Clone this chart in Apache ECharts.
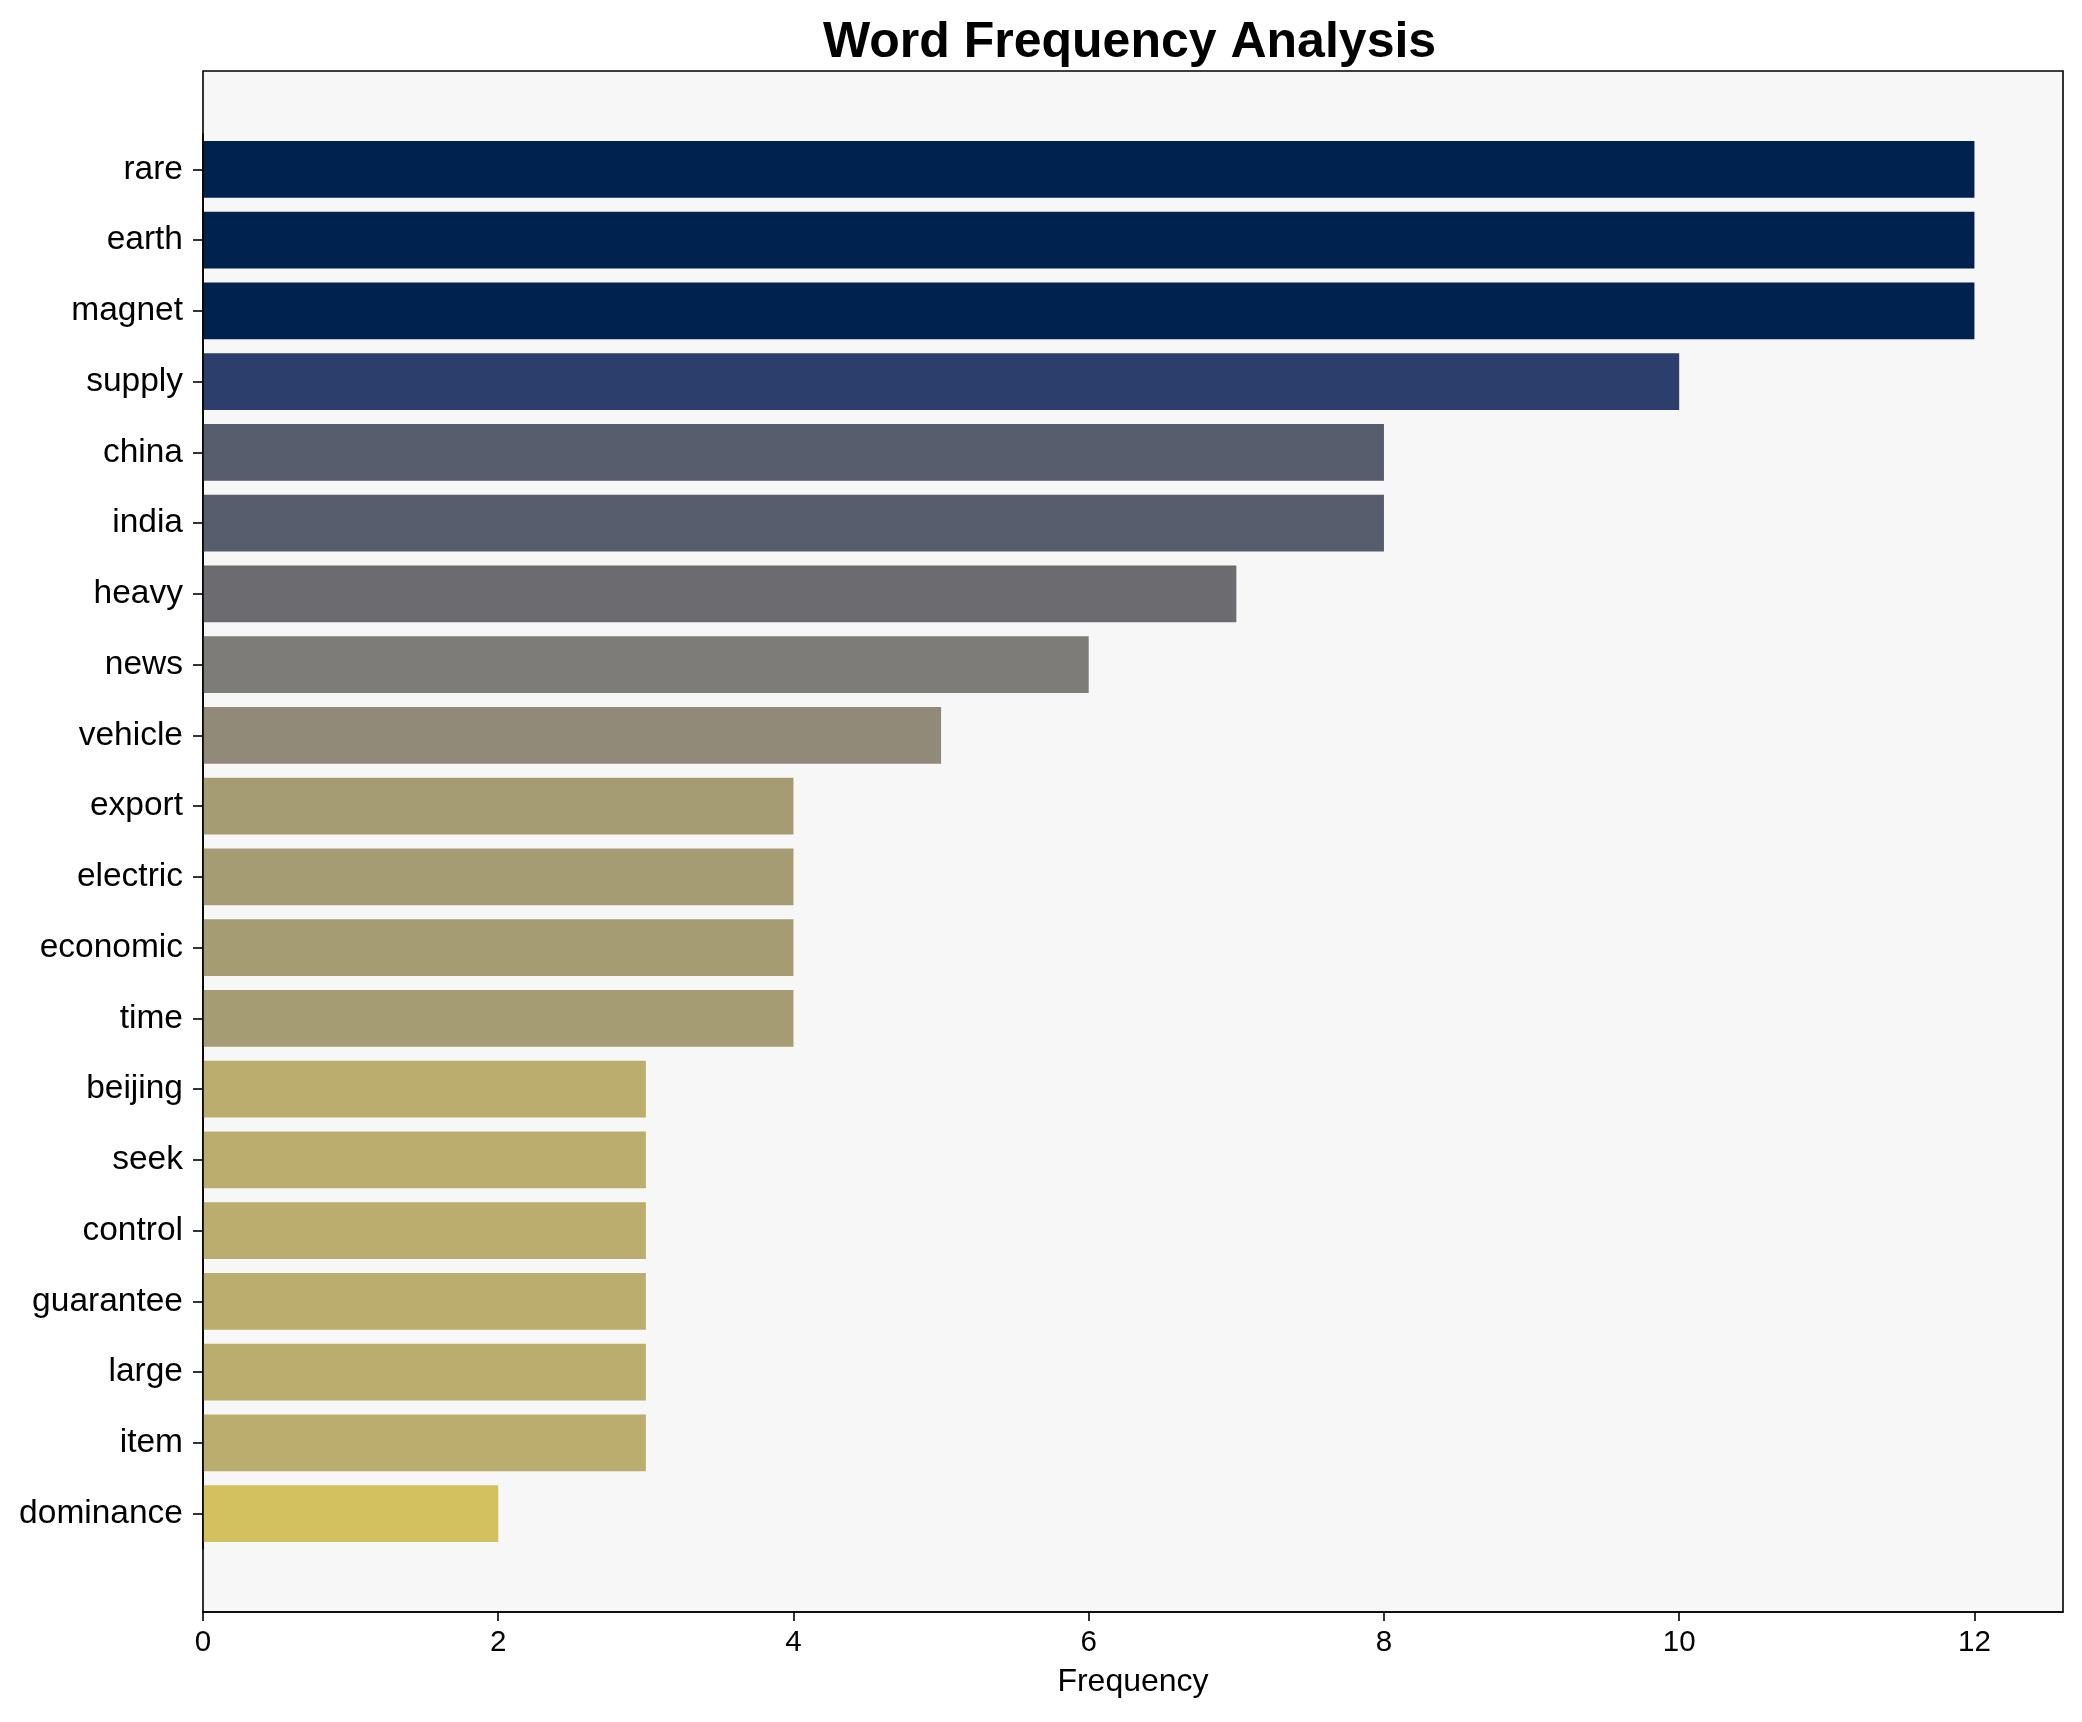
<!DOCTYPE html>
<html>
<head>
<meta charset="utf-8">
<script src="https://cdn.jsdelivr.net/npm/echarts@6/dist/echarts.min.js"></script>
<style>
html,body{margin:0;padding:0;background:#fff;}
#chart{width:2082px;height:1722px;}
</style>
</head>
<body>
<div id="chart"></div>
<script>
// ---- data ----
const words = ['rare','earth','magnet','supply','china','india','heavy','news','vehicle','export','electric','economic','time','beijing','seek','control','guarantee','large','item','dominance'];
const frequencies = [12,12,12,10,8,8,7,6,5,4,4,4,4,3,3,3,3,3,3,2];
const xTicks = [0,2,4,6,8,10,12];
const xMax = 12.6;
const chartTitle = 'Word Frequency Analysis';
const xName = 'Frequency';

// ---- style ----
const FONT = '"Liberation Sans", Arial, sans-serif';
const colorByValue = {12:'#00224e',10:'#2b3e6c',8:'#575d6d',7:'#6b6b70',6:'#7d7c78',5:'#918a78',4:'#a59c73',3:'#bbad6d',2:'#d3c05f'};

const chart = echarts.init(document.getElementById('chart'), null, {renderer:'canvas'});
chart.setOption({
  backgroundColor:'#ffffff',
  animation:false,
  title:{
    text: chartTitle, left: 823, top: 18, padding: 0,
    textStyle:{fontFamily:FONT, fontSize:50, fontWeight:'bold', color:'#000'}
  },
  grid:[
    {left:203, right:19, top:134, bottom:173, containLabel:false},
    {left:203, right:19, top:71, bottom:110, show:true, backgroundColor:'#f7f7f7', borderColor:'#000', borderWidth:1.6, z:0}
  ],
  xAxis:[
    {
      type:'value', gridIndex:0, min:0, max:xMax, interval:2, offset:63, z:10,
      axisLine:{show:true, lineStyle:{color:'#000', width:1.6}},
      axisTick:{show:true, length:9, lineStyle:{color:'#000', width:1.6}, customValues:xTicks},
      axisLabel:{fontFamily:FONT, fontSize:29.5, color:'#000', margin:16, customValues:xTicks},
      splitLine:{show:false},
      name:xName, nameLocation:'middle', nameGap:54,
      nameTextStyle:{fontFamily:FONT, fontSize:32, color:'#000'}
    },
    {type:'value', gridIndex:1, show:false, min:0, max:1}
  ],
  yAxis:[
    {
      type:'category', gridIndex:0, data:words, inverse:true, z:10,
      axisLine:{show:true, lineStyle:{color:'#000', width:1.6}},
      axisTick:{show:true, alignWithLabel:true, length:10, lineStyle:{color:'#000', width:1.6}},
      axisLabel:{fontFamily:FONT, fontSize:33.5, color:'#000', margin:20},
      splitLine:{show:false}
    },
    {type:'value', gridIndex:1, show:false, min:0, max:1}
  ],
  series:[{
    type:'bar', xAxisIndex:0, yAxisIndex:0,
    barWidth:'80%', z:2,
    data: frequencies.map(v => ({value:v, itemStyle:{color:colorByValue[v]}}))
  }]
});
</script>
</body>
</html>
